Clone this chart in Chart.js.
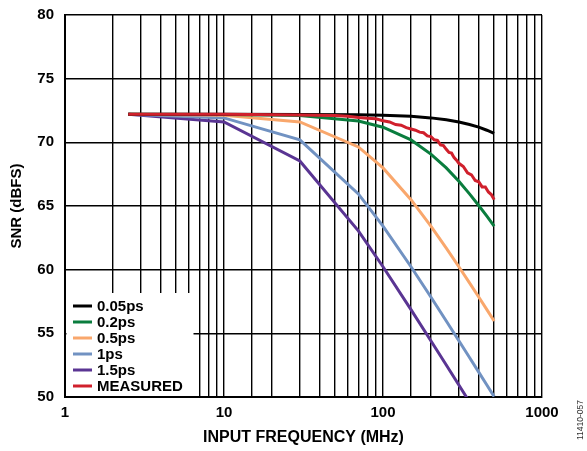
<!DOCTYPE html>
<html lang="en">
<head>
    <meta charset="UTF-8">
    <title>SNR vs Input Frequency</title>
    <style>
        html, body { margin: 0; padding: 0; background: #fff; }
        #wrap { width: 587px; height: 451px; }
    </style>
</head>
<body>
    <div id="wrap">
        <canvas id="myChart"></canvas>
    </div>

<script src="https://cdn.jsdelivr.net/npm/chart.js"></script>
<script>
    // data
    const freqs = [2.5, 10, 30, 70, 100, 150, 200, 250, 300, 350, 400, 450, 500];
    const snr005 = [72.2, 72.2, 72.19, 72.16, 72.13, 72.04, 71.92, 71.77, 71.6, 71.4, 71.19, 70.95, 70.71];
    const snr02 = [72.2, 72.19, 72.1, 71.67, 71.19, 70.19, 69.08, 67.99, 66.94, 65.95, 65.04, 64.2, 63.42];
    const snr05 = [72.2, 72.13, 71.6, 69.64, 67.99, 65.5, 63.42, 61.69, 60.23, 58.96, 57.85, 56.86, 55.97];
    const snr1 = [72.2, 71.92, 70.19, 65.95, 63.42, 60.23, 57.85, 55.97, 54.42, 53.1, 51.95, 50.94, 50.03];
    const snr15 = [72.2, 71.6, 68.54, 63.05, 60.23, 56.86, 54.42, 52.51, 50.94, 49.61, null, null, null];

    const measFreqs = [2.5, 10, 30, 50, 60, 70, 80, 90, 100, 110, 120, 130, 140, 150, 160, 170, 180, 190, 200,
                       210, 220, 230, 240, 250, 260, 270, 280, 290, 300, 320, 340, 360, 380, 400, 420, 440, 460, 480, 500];
    const measSnr = [72.2, 72.2, 72.15, 72.1, 72.05, 71.95, 71.9, 71.85, 71.7, 71.6, 71.4, 71.35, 71.15, 71.05, 70.95, 70.8, 70.75, 70.5, 70.45,
                     70.2, 70.15, 69.8, 69.75, 69.45, 69.2, 69.15, 68.8, 68.6, 68.35, 68.1, 67.6, 67.45, 67.0, 66.9, 66.5, 66.5, 66.1, 65.9, 65.5];

    const seriesNames = ['0.05ps', '0.2ps', '0.5ps', '1ps', '1.5ps', 'MEASURED'];
    const seriesColors = ['#000000', '#0a7d3e', '#f9a76c', '#7192c2', '#5a3593', '#d0202c'];
    const xTickLabels = ['1', '10', '100', '1000'];

    const FONT = 'Arial, "Liberation Sans", Helvetica, sans-serif';

    function pts(xs, ys) {
        return xs.map((x, i) => ({ x: x, y: ys[i] }));
    }

    const seriesData = [
        pts(freqs, snr005),
        pts(freqs, snr02),
        pts(freqs, snr05),
        pts(freqs, snr1),
        pts(freqs, snr15),
        pts(measFreqs, measSnr)
    ];

    // legend sits inside the plot, bottom left, on a white box
    const insideLegend = {
        id: 'insideLegend',
        afterDatasetsDraw(chart) {
            const { ctx, chartArea: a } = chart;
            ctx.save();
            ctx.fillStyle = '#fff';
            ctx.fillRect(a.left + 1.5, a.bottom - 104, 127, 103);
            ctx.font = 'bold 15px ' + FONT;
            ctx.textBaseline = 'middle';
            ctx.textAlign = 'left';
            seriesNames.forEach((name, i) => {
                const y = a.bottom - 91 + i * 16;
                ctx.strokeStyle = seriesColors[i];
                ctx.lineWidth = 3;
                ctx.beginPath();
                ctx.moveTo(a.left + 8, y);
                ctx.lineTo(a.left + 27, y);
                ctx.stroke();
                ctx.fillStyle = '#000';
                ctx.fillText(name, a.left + 32, y + 1);
            });
            ctx.restore();
        }
    };

    const figId = {
        id: 'figId',
        afterDraw(chart) {
            const ctx = chart.ctx;
            ctx.save();
            ctx.translate(581, 420);
            ctx.rotate(-Math.PI / 2);
            ctx.font = '8.5px ' + FONT;
            ctx.fillStyle = '#333';
            ctx.textAlign = 'center';
            ctx.textBaseline = 'middle';
            ctx.fillText('11410-057', 0, 0);
            ctx.restore();
        }
    };

    const ctx = document.getElementById('myChart');

    new Chart(ctx, {
        type: 'line',
        data: {
            datasets: seriesNames.map((name, i) => ({
                label: name,
                data: seriesData[i],
                borderColor: seriesColors[i],
                backgroundColor: seriesColors[i],
                borderWidth: 3,
                pointRadius: 0,
                tension: 0,
                fill: false,
                order: i === 5 ? 0 : i + 1
            }))
        },
        options: {
            responsive: true,
            maintainAspectRatio: false,
            animation: false,
            layout: { padding: { top: 15, right: 45, left: 0, bottom: 0 } },
            plugins: {
                legend: { display: false },
                tooltip: { enabled: false }
            },
            scales: {
                x: {
                    type: 'logarithmic',
                    min: 1,
                    max: 1000,
                    afterFit: (s) => { s.height = 54; s.paddingLeft = 0; s.paddingRight = 0; },
                    grid: { color: '#000', lineWidth: 1.4, drawTicks: false },
                    border: { color: '#000', width: 2 },
                    ticks: {
                        autoSkip: false,
                        maxRotation: 0,
                        padding: 7,
                        color: '#000',
                        font: { family: FONT, size: 15, weight: 'bold' },
                        callback: (v) => xTickLabels.includes(String(v)) ? String(v) : ''
                    },
                    title: {
                        display: true,
                        text: 'INPUT FREQUENCY (MHz)',
                        color: '#000',
                        font: { family: FONT, size: 16, weight: 'bold' },
                        padding: { top: 0, bottom: 4 }
                    }
                },
                y: {
                    min: 50,
                    max: 80,
                    afterFit: (s) => { s.width = 65; s.paddingTop = 0; s.paddingBottom = 0; },
                    grid: { color: '#000', lineWidth: 1.4, drawTicks: false },
                    border: { color: '#000', width: 2 },
                    ticks: {
                        stepSize: 5,
                        padding: 11,
                        color: '#000',
                        font: { family: FONT, size: 15, weight: 'bold' }
                    },
                    title: {
                        display: true,
                        text: 'SNR (dBFS)',
                        color: '#000',
                        font: { family: FONT, size: 15, weight: 'bold' },
                        padding: { top: 8, bottom: 0 }
                    }
                }
            }
        },
        plugins: [insideLegend, figId]
    });
</script>
</body>
</html>
